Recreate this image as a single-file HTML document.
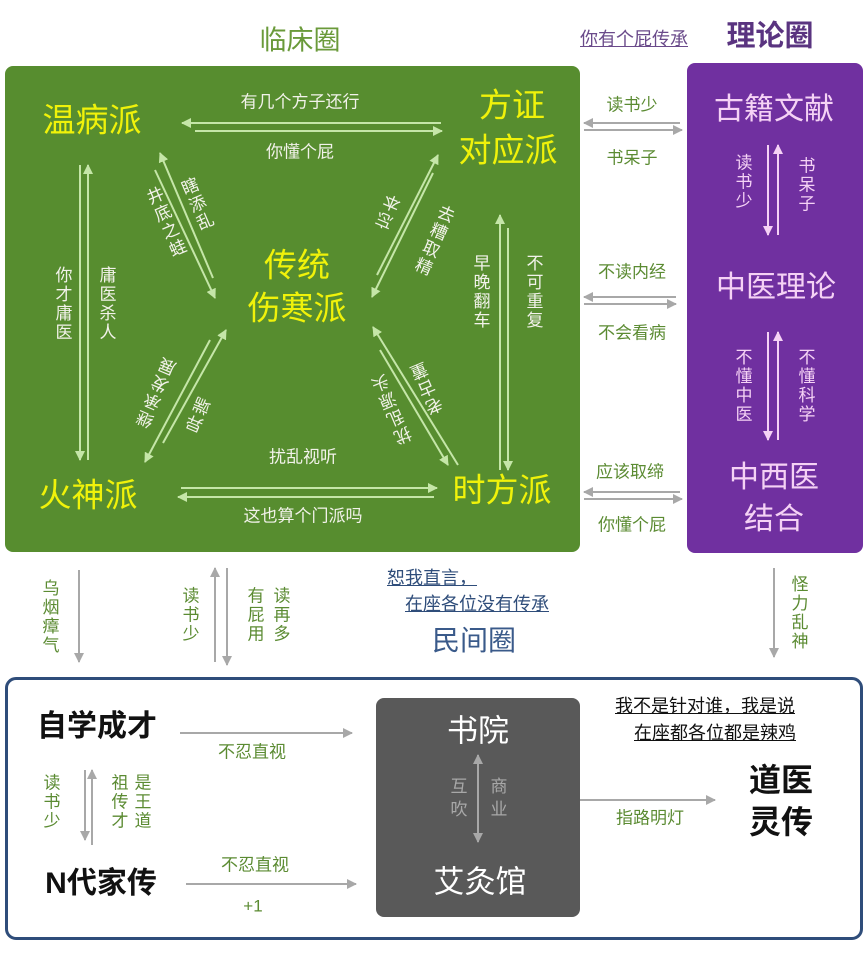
<!DOCTYPE html>
<html><head><meta charset="utf-8">
<style>
body{margin:0;width:865px;height:968px;background:#fff;position:relative;overflow:hidden;font-family:"Liberation Sans","Noto Sans CJK SC",sans-serif;}
.t{position:absolute;transform:translate(-50%,-50%);white-space:nowrap;line-height:1;}
.v{writing-mode:vertical-rl;letter-spacing:2px;}
.y{color:#f0f20a;font-size:33px;}
.w{color:#f2f2ea;font-size:17px;}
.g{color:#5b8b32;font-size:17px;}
.p{color:#f5d2f5;}
svg{position:absolute;left:0;top:0;}
</style></head><body>
<div style="position:absolute;left:5px;top:66px;width:575px;height:486px;background:#578d2f;border-radius:8px"></div>
<div style="position:absolute;left:687px;top:63px;width:176px;height:490px;background:#7030a0;border-radius:8px"></div>
<div style="position:absolute;left:5px;top:677px;width:852px;height:257px;border:3px solid #2f4d7a;border-radius:11px"></div>
<div style="position:absolute;left:376px;top:698px;width:204px;height:219px;background:#595959;border-radius:8px"></div>

<svg width="865" height="968">
<defs>
<marker id="ag" markerWidth="10" markerHeight="10" refX="9" refY="5" orient="auto" markerUnits="userSpaceOnUse"><path d="M0,0 L10,5 L0,10 z" fill="#c5e6a8"/></marker>
<marker id="ap" markerWidth="10" markerHeight="10" refX="9" refY="5" orient="auto" markerUnits="userSpaceOnUse"><path d="M0,0 L10,5 L0,10 z" fill="#f5d2f5"/></marker>
<marker id="ay" markerWidth="10" markerHeight="10" refX="9" refY="5" orient="auto-start-reverse" markerUnits="userSpaceOnUse"><path d="M0,0 L10,5 L0,10 z" fill="#a8a8a8"/></marker>
</defs>
<g stroke="#c5e6a8" stroke-width="2" fill="none">
<line x1="441" y1="123" x2="182" y2="123" marker-end="url(#ag)"/>
<line x1="195" y1="131" x2="442" y2="131" marker-end="url(#ag)"/>
<line x1="80" y1="165" x2="80" y2="460" marker-end="url(#ag)"/>
<line x1="88" y1="460" x2="88" y2="165" marker-end="url(#ag)"/>
<line x1="213" y1="278" x2="160" y2="153" marker-end="url(#ag)"/>
<line x1="155" y1="170" x2="215" y2="298" marker-end="url(#ag)"/>
<line x1="377" y1="275" x2="438" y2="155" marker-end="url(#ag)"/>
<line x1="433" y1="173" x2="372" y2="297" marker-end="url(#ag)"/>
<line x1="163" y1="443" x2="226" y2="330" marker-end="url(#ag)"/>
<line x1="210" y1="340" x2="145" y2="462" marker-end="url(#ag)"/>
<line x1="458" y1="465" x2="373" y2="327" marker-end="url(#ag)"/>
<line x1="380" y1="350" x2="448" y2="465" marker-end="url(#ag)"/>
<line x1="500" y1="470" x2="500" y2="215" marker-end="url(#ag)"/>
<line x1="508" y1="228" x2="508" y2="470" marker-end="url(#ag)"/>
<line x1="181" y1="488" x2="437" y2="488" marker-end="url(#ag)"/>
<line x1="434" y1="497" x2="178" y2="497" marker-end="url(#ag)"/>
</g>
<g stroke="#f5d2f5" stroke-width="2" fill="none">
<line x1="768" y1="145" x2="768" y2="235" marker-end="url(#ap)"/>
<line x1="778" y1="235" x2="778" y2="145" marker-end="url(#ap)"/>
<line x1="768" y1="332" x2="768" y2="440" marker-end="url(#ap)"/>
<line x1="778" y1="440" x2="778" y2="332" marker-end="url(#ap)"/>
</g>
<g stroke="#a8a8a8" stroke-width="2" fill="none">
<line x1="680" y1="123" x2="584" y2="123" marker-end="url(#ay)"/>
<line x1="584" y1="130" x2="682" y2="130" marker-end="url(#ay)"/>
<line x1="676" y1="297" x2="584" y2="297" marker-end="url(#ay)"/>
<line x1="584" y1="304" x2="676" y2="304" marker-end="url(#ay)"/>
<line x1="680" y1="492" x2="584" y2="492" marker-end="url(#ay)"/>
<line x1="584" y1="499" x2="682" y2="499" marker-end="url(#ay)"/>
<line x1="79" y1="570" x2="79" y2="662" marker-end="url(#ay)"/>
<line x1="215" y1="662" x2="215" y2="568" marker-end="url(#ay)"/>
<line x1="227" y1="568" x2="227" y2="665" marker-end="url(#ay)"/>
<line x1="774" y1="568" x2="774" y2="657" marker-end="url(#ay)"/>
<line x1="180" y1="733" x2="352" y2="733" marker-end="url(#ay)"/>
<line x1="85" y1="770" x2="85" y2="840" marker-end="url(#ay)"/>
<line x1="92" y1="845" x2="92" y2="770" marker-end="url(#ay)"/>
<line x1="186" y1="884" x2="356" y2="884" marker-end="url(#ay)"/>
<line x1="580" y1="800" x2="715" y2="800" marker-end="url(#ay)"/>
<line x1="478" y1="755" x2="478" y2="842" marker-end="url(#ay)" marker-start="url(#ay)"/>
</g>
</svg>

<div class="t" style="left:300px;top:41px;font-size:27px;color:#6a9a3a">临床圈</div>
<div class="t" style="left:634px;top:39px;font-size:18px;color:#6a4a8a;text-decoration:underline">你有个屁传承</div>
<div class="t" style="left:770px;top:37px;font-size:29px;color:#5a3480;font-weight:bold">理论圈</div>

<div class="t y" style="left:92px;top:120px">温病派</div>
<div class="t y" style="left:512px;top:105px">方证</div>
<div class="t y" style="left:508px;top:150px">对应派</div>
<div class="t y" style="left:297px;top:265px">传统</div>
<div class="t y" style="left:297px;top:308px">伤寒派</div>
<div class="t y" style="left:88px;top:495px">火神派</div>
<div class="t y" style="left:502px;top:490px">时方派</div>

<div class="t w" style="left:300px;top:102px">有几个方子还行</div>
<div class="t w" style="left:300px;top:152px">你懂个屁</div>
<div class="t w" style="left:303px;top:457px">扰乱视听</div>
<div class="t w" style="left:303px;top:516px">这也算个门派吗</div>
<div class="t w v" style="left:62px;top:304px">你才庸医</div>
<div class="t w v" style="left:106px;top:304px">庸医杀人</div>
<div class="t w v" style="left:480px;top:292px">早晚翻车</div>
<div class="t w v" style="left:533px;top:292px">不可重复</div>
<div class="t w v" style="left:196px;top:205px;transform:translate(-50%,-50%) rotate(-23deg)">瞎添乱</div>
<div class="t w v" style="left:165px;top:223px;transform:translate(-50%,-50%) rotate(-23deg)">井底之蛙</div>
<div class="t w v" style="left:390px;top:212px;transform:translate(-50%,-50%) rotate(203deg)">忘本</div>
<div class="t w v" style="left:433px;top:240px;transform:translate(-50%,-50%) rotate(23deg)">去糟取精</div>
<div class="t w v" style="left:158px;top:393px;transform:translate(-50%,-50%) rotate(203deg)">继承发展</div>
<div class="t w v" style="left:200px;top:415px;transform:translate(-50%,-50%) rotate(203deg)">异端</div>
<div class="t w v" style="left:428px;top:387px;transform:translate(-50%,-50%) rotate(157deg)">老古董</div>
<div class="t w v" style="left:393px;top:408px;transform:translate(-50%,-50%) rotate(157deg)">扰乱源头</div>

<div class="t p" style="left:774px;top:110px;font-size:30px">古籍文献</div>
<div class="t p" style="left:776px;top:288px;font-size:30px">中医理论</div>
<div class="t p" style="left:774px;top:478px;font-size:30px">中西医</div>
<div class="t p" style="left:774px;top:520px;font-size:30px">结合</div>
<div class="t p v" style="left:742px;top:182px;font-size:17px">读书少</div>
<div class="t p v" style="left:805px;top:185px;font-size:17px">书呆子</div>
<div class="t p v" style="left:742px;top:386px;font-size:17px">不懂中医</div>
<div class="t p v" style="left:805px;top:386px;font-size:17px">不懂科学</div>

<div class="t g" style="left:632px;top:105px">读书少</div>
<div class="t g" style="left:632px;top:158px">书呆子</div>
<div class="t g" style="left:632px;top:272px">不读内经</div>
<div class="t g" style="left:632px;top:333px">不会看病</div>
<div class="t g" style="left:630px;top:472px">应该取缔</div>
<div class="t g" style="left:632px;top:525px">你懂个屁</div>

<div class="t g v" style="left:49px;top:617px">乌烟瘴气</div>
<div class="t g v" style="left:189px;top:615px">读书少</div>
<div class="t g v" style="left:254px;top:615px">有屁用</div>
<div class="t g v" style="left:280px;top:615px">读再多</div>
<div class="t g v" style="left:798px;top:613px">怪力乱神</div>
<div class="t" style="left:432px;top:578px;font-size:18px;color:#2f4d7a;text-decoration:underline">恕我直言，</div>
<div class="t" style="left:477px;top:604px;font-size:18px;color:#2f4d7a;text-decoration:underline">在座各位没有传承</div>
<div class="t" style="left:474px;top:641px;font-size:28px;color:#3a5a8a">民间圈</div>

<div class="t" style="left:97px;top:727px;font-size:30px;color:#111;font-weight:bold">自学成才</div>
<div class="t" style="left:101px;top:884px;font-size:30px;color:#111;font-weight:bold">N代家传</div>
<div class="t g" style="left:252px;top:752px">不忍直视</div>
<div class="t g" style="left:255px;top:865px">不忍直视</div>
<div class="t g" style="left:253px;top:906px">+1</div>
<div class="t g v" style="left:50px;top:802px">读书少</div>
<div class="t g v" style="left:118px;top:802px">祖传才</div>
<div class="t g v" style="left:141px;top:802px">是王道</div>
<div class="t" style="left:478px;top:731px;font-size:31px;color:#fff">书院</div>
<div class="t" style="left:480px;top:882px;font-size:31px;color:#fff">艾灸馆</div>
<div class="t v" style="left:457px;top:800px;font-size:17px;color:#a8a8a8;letter-spacing:6px">互吹</div>
<div class="t v" style="left:497px;top:800px;font-size:17px;color:#a8a8a8;letter-spacing:6px">商业</div>
<div class="t" style="left:705px;top:706px;font-size:18px;color:#111;text-decoration:underline">我不是针对谁，我是说</div>
<div class="t" style="left:715px;top:733px;font-size:18px;color:#111;text-decoration:underline">在座都各位都是辣鸡</div>
<div class="t" style="left:781px;top:780px;font-size:32px;color:#111;font-weight:bold">道医</div>
<div class="t" style="left:781px;top:822px;font-size:32px;color:#111;font-weight:bold">灵传</div>
<div class="t g" style="left:650px;top:818px">指路明灯</div>
</body></html>
